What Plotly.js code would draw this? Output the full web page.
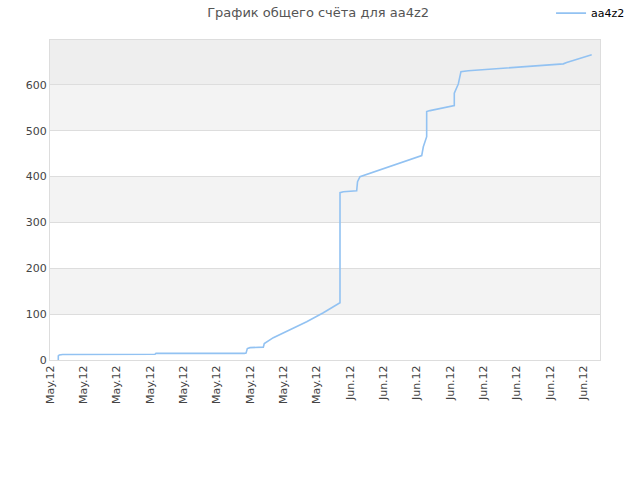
<!DOCTYPE html>
<html>
<head>
<meta charset="utf-8">
<script src="https://cdn.plot.ly/plotly-3.0.1.min.js"></script>
<style>body{margin:0;padding:0;background:#fff}#chart{width:640px;height:480px}</style>
</head>
<body>
<div id="chart"></div>
<script>
const seriesName = "aa4z2";
const chartTitle = "График общего счёта для aa4z2";
const dates = [
  "2012-05-02 20:55", "2012-05-02 20:56", "2012-05-02 23:30", "2012-05-03 08:00",
  "2012-05-13 00:30", "2012-05-13 03:00", "2012-05-22 09:36", "2012-05-22 14:00",
  "2012-05-22 17:17", "2012-05-23 00:00", "2012-05-24 09:36", "2012-05-24 12:00",
  "2012-05-25 10:48", "2012-05-27 04:48", "2012-05-28 22:48", "2012-05-30 16:48",
  "2012-06-01 10:48", "2012-06-01 10:50", "2012-06-01 19:12", "2012-06-03 04:48",
  "2012-06-03 06:58", "2012-06-03 13:12", "2012-06-10 00:43", "2012-06-10 04:48",
  "2012-06-10 13:12", "2012-06-10 13:14", "2012-06-10 21:36", "2012-06-13 10:48",
  "2012-06-13 10:50", "2012-06-13 20:53", "2012-06-14 03:36", "2012-06-14 22:05",
  "2012-06-16 07:55", "2012-06-17 13:12", "2012-06-18 22:48", "2012-06-20 08:24",
  "2012-06-21 18:00", "2012-06-22 23:17", "2012-06-24 21:36", "2012-06-25 06:00",
  "2012-06-27 21:07"
];
const scores = [
  0, 9, 11, 12,
  12.5, 14.5, 14.5, 15,
  25, 27, 28, 36,
  48.7, 65.5, 83.6, 103,
  125, 365, 367, 369,
  389, 400, 446, 465,
  487, 542, 544, 555,
  582, 602, 629, 631,
  633, 635, 637, 640,
  642, 644, 646, 649,
  666
];
const yTicks = [0, 100, 200, 300, 400, 500, 600];
const bandRanges = [[100, 200], [300, 400], [500, 600], [600, 698]];
const bandColors = ["#f3f3f3", "#f3f3f3", "#f3f3f3", "#eeeeee"];

const DAY = 86400000;
const shapes = bandRanges.map((r, i) => ({
  type: "rect", xref: "paper", yref: "y", x0: 0, x1: 1, y0: r[0], y1: r[1],
  fillcolor: bandColors[i], line: {width: 0}, layer: "below"
}));

Plotly.newPlot("chart", [{
  x: dates, y: scores, type: "scatter", mode: "lines", name: seriesName,
  line: {color: "#92c2f2", width: 1.6}
}], {
  width: 640, height: 480,
  margin: {l: 50, r: 40, t: 40, b: 120, autoexpand: false},
  paper_bgcolor: "#ffffff", plot_bgcolor: "#ffffff",
  font: {family: "DejaVu Sans, sans-serif", size: 11, color: "#444"},
  title: {text: chartTitle, x: 0.497, xanchor: "center", y: 0.975, yanchor: "middle",
          font: {size: 13, color: "#555", family: "DejaVu Sans, sans-serif"}},
  showlegend: true,
  legend: {x: 0.911, y: 1.084, xanchor: "left", yanchor: "middle",
           font: {size: 11, color: "#000"}, bgcolor: "rgba(0,0,0,0)", itemwidth: 30},
  xaxis: {
    type: "date", range: ["2012-05-02 00:00", "2012-06-28 18:00"],
    tick0: "2012-05-02", dtick: 3.5 * DAY, tickformat: "%b.%y", tickangle: -90,
    showgrid: false, zeroline: false, showline: true, linecolor: "#dddddd", mirror: true,
    ticks: "", tickfont: {size: 11, color: "#444"}
  },
  yaxis: {
    range: [0, 698], tickvals: yTicks, showgrid: true, gridcolor: "#dddddd",
    zeroline: false, showline: true, linecolor: "#dddddd", mirror: true,
    ticks: "", tickfont: {size: 11, color: "#444"}
  },
  shapes: shapes
}, {staticPlot: true});
</script>
</body>
</html>
